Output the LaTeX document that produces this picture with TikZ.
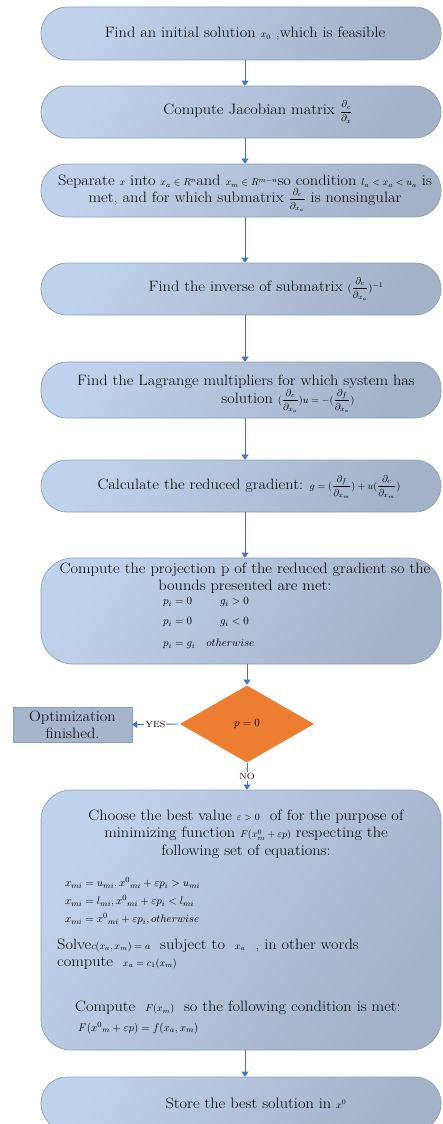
\documentclass[tikz,border=0pt]{standalone}
\usepackage{fontspec}
\usepackage{amsmath}
\setmainfont{Latin Modern Roman}[FakeStretch=1.09]
\usetikzlibrary{arrows.meta,shapes.geometric,calc}

\definecolor{boxlight}{HTML}{BFD2EB}
\definecolor{boxgrey}{HTML}{A2B2C9}
\definecolor{boxedge}{HTML}{8C9EB8}
\definecolor{flowblue}{HTML}{4472C4}
\definecolor{decision}{HTML}{ED7D31}
\definecolor{endfill}{HTML}{A5B5CC}

% small math as it appears inside the boxes
\newcommand\mth[1]{{\fontsize{10}{12}\selectfont$#1$}}
\newcommand\pfr[2]{\dfrac{\partial_{#1}}{\partial_{#2}}}

\begin{document}
\begin{tikzpicture}[x=1pt,y=-1pt,
  procbox/.style={draw=boxedge, line width=0.7pt, rounded corners=26pt,
    minimum width=400pt, inner sep=0pt,
    top color=boxlight, bottom color=boxgrey, shading angle=55},
  txt/.style={font=\fontsize{15}{17}\selectfont, align=center, inner sep=0pt},
  eqn/.style={font=\fontsize{11}{13}\selectfont, anchor=west, inner sep=0pt},
  flow/.style={draw=flowblue, line width=0.9pt, -{Triangle[length=5pt,width=7pt]}},
  tag/.style={font=\fontsize{9}{10}\selectfont, fill=white, inner sep=1pt}]

\useasboundingbox (0,0) rectangle (442,1124);
\clip (0,0) rectangle (442,1124);

% process boxes
\node[procbox, minimum height=53pt] (b1) at (241,33.5) {};
\node[procbox, minimum height=52pt] (b2) at (241,112) {};
\node[procbox, minimum height=53pt] (b3) at (241,190.5) {};
\node[procbox, minimum height=52pt] (b4) at (241,289) {};
\node[procbox, minimum height=56pt] (b5) at (241,390) {};
\node[procbox, minimum height=52pt] (b6) at (241,486) {};
\node[procbox, minimum height=106pt, rounded corners=32pt] (b7) at (241,611) {};
\node[procbox, minimum height=260pt, rounded corners=30pt] (b8) at (241,920) {};
\node[procbox, minimum height=53pt] (b9) at (241,1103.5) {};

% decision and end
\node[diamond, aspect=1.74, minimum width=136pt, minimum height=78pt, inner sep=0pt,
      fill=decision, draw=white, line width=0.6pt] (dia) at (247,724) {};
\node[draw=boxedge, fill=endfill, line width=0.5pt, minimum width=119pt,
      minimum height=35pt, inner sep=0pt] (opt) at (72.5,724.5) {};

% texts
\node[txt] (t1) at (245,34) {Find an initial solution \mth{x_0} ,which is feasible};
\node[txt] (t2) at (258,112) {Compute Jacobian matrix \mth{\pfr{c}{x}}};
\node[txt] (t3a) at (245,182) {Separate \mth{x} into \mth{x_a\in R^n}and \mth{x_m\in R^{m-n}}so condition \mth{l_a<x_a<u_a} is};
\node[txt] (t3b) at (245,200) {met, and for which submatrix \mth{\pfr{c}{x_a}} is nonsingular};
\node[txt] (t4) at (266,289) {Find the inverse of submatrix \mth{(\pfr{c}{x_a})^{-1}}};
\node[txt] (t5a) at (246,382) {Find the Lagrange multipliers for which system has};
\node[txt] (t5b) at (288,401) {solution \mth{(\pfr{c}{x_a})u=-(\pfr{f}{x_a})}};
\node[txt] (t6) at (249,487) {Calculate the reduced gradient: \mth{g=(\pfr{f}{x_m})+u(\pfr{c}{x_m})}};
\node[txt] (t7) at (245,578) {Compute the projection p of the reduced gradient so the\\ bounds presented are met:};
\node[eqn] (e71) at (163,602) {$p_i=0$};
\node[eqn] (e71b) at (220,602) {$g_i>0$};
\node[eqn] (e72) at (163,622) {$p_i=0$};
\node[eqn] (e72b) at (220,622) {$g_i<0$};
\node[eqn] (e73) at (163,644) {$p_i=g_i\quad otherwise$};

\node[font=\fontsize{11}{12}\selectfont] (dt) at (dia) {$p=0$};
\node[txt] (ot) at (opt) {Optimization\\ finished.};

\node[txt, font=\fontsize{15}{17.5}\selectfont] (t8) at (246,834) {Choose the best value \mth{\varepsilon>0} \ of for the purpose of\\ minimizing function \mth{F(x_m^0+\varepsilon p)} respecting the\\ following set of equations:};
\node[eqn] (e81) at (65,883) {$x_{mi}=u_{mi},x^0{}_{mi}+\varepsilon p_i>u_{mi}$};
\node[eqn] (e82) at (65,901) {$x_{mi}=l_{mi},x^0{}_{mi}+\varepsilon p_i<l_{mi}$};
\node[eqn] (e83) at (65,919) {$x_{mi}=x^0{}_{mi}+\varepsilon p_i,otherwise$};
\node[txt, anchor=west, align=left] (t8s) at (57,954) {Solve\mth{c(x_a,x_m)=a} \ subject to \ \mth{x_a} \ , in other words\\ compute \ \mth{x_a=c_1(x_m)}};
\node[txt, anchor=west] (t8c) at (75,1008) {Compute \ \mth{F(x_m)} \ so the following condition is met:};
\node[eqn] (e84) at (78,1028) {$F(x^0{}_m+\varepsilon p)=f(x_a,x_m)$};
\node[txt] (t9) at (256,1103) {Store the best solution in \mth{x^0}};

% connectors
\draw[flow] ([xshift=4pt]b1.south) -- ([xshift=4pt]b2.north);
\draw[flow] ([xshift=4pt]b2.south) -- ([xshift=4pt]b3.north);
\draw[flow] ([xshift=4pt]b3.south) -- ([xshift=4pt]b4.north);
\draw[flow] ([xshift=4pt]b4.south) -- ([xshift=4pt]b5.north);
\draw[flow] ([xshift=4pt]b5.south) -- ([xshift=4pt]b6.north);
\draw[flow] ([xshift=4pt]b6.south) -- ([xshift=4pt]b7.north);
\draw[flow] (b7.south -| dia.north) -- (dia.north);
\draw[flow] (dia.west) -- node[tag] (yes) {YES} (opt.east);
\draw[flow] (dia.south) -- node[tag] (no) {NO} (dia.south |- b8.north);
\draw[flow] ([xshift=4pt]b8.south) -- ([xshift=4pt]b9.north);
\end{tikzpicture}
\end{document}
